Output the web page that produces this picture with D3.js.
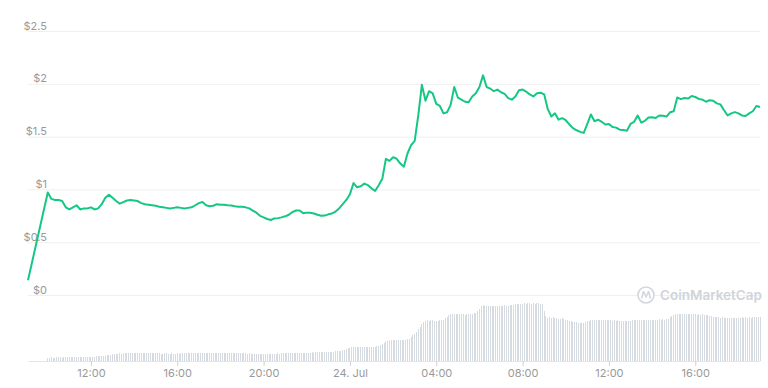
<!DOCTYPE html>
<html>
<head>
<meta charset="utf-8">
<script src="https://cdn.jsdelivr.net/npm/d3@7"></script>
<style>
  html, body { margin: 0; padding: 0; background: #fff; }
  #chart { width: 768px; height: 388px; }
  text { font-family: Inter, "Open Sans", sans-serif; }
</style>
</head>
<body>
<div id="chart"></div>
<script>
// first traded point sits apart from the 10-minute series
const openPoint = [new Date(2021, 6, 23, 9, 5), 0.14];

// price every 10 minutes from 23 Jul 10:00 to 24 Jul 19:00
const priceStart = new Date(2021, 6, 23, 10, 0);
const priceStepMin = 10;
const prices = [
  0.97, 0.91, 0.90, 0.90, 0.89, 0.83, 0.81, 0.83, 0.85, 0.81, 0.82, 0.82,
  0.83, 0.81, 0.82, 0.86, 0.92, 0.95, 0.92, 0.89, 0.865, 0.88, 0.895, 0.90,
  0.895, 0.89, 0.87, 0.86, 0.855, 0.85, 0.845, 0.835, 0.83, 0.825, 0.82, 0.825,
  0.83, 0.825, 0.82, 0.825, 0.83, 0.85, 0.87, 0.88, 0.85, 0.84, 0.845, 0.86,
  0.855, 0.855, 0.85, 0.847, 0.84, 0.836, 0.836, 0.83, 0.82, 0.80, 0.78, 0.75,
  0.735, 0.72, 0.71, 0.725, 0.728, 0.735, 0.745, 0.76, 0.785, 0.80, 0.80, 0.775,
  0.78, 0.778, 0.772, 0.76, 0.75, 0.752, 0.764, 0.772, 0.79, 0.82, 0.86, 0.90,
  0.955, 1.06, 1.02, 1.03, 1.055, 1.04, 1.01, 0.985, 1.04, 1.10, 1.29, 1.27,
  1.305, 1.29, 1.245, 1.215, 1.34, 1.42, 1.46, 1.70, 1.99, 1.84, 1.93, 1.91,
  1.81, 1.79, 1.72, 1.73, 1.80, 1.97, 1.87, 1.85, 1.83, 1.825, 1.88, 1.91,
  1.97, 2.08, 1.97, 1.955, 1.93, 1.945, 1.92, 1.905, 1.865, 1.85, 1.88, 1.94,
  1.945, 1.925, 1.90, 1.88, 1.91, 1.915, 1.90, 1.76, 1.69, 1.72, 1.66, 1.675,
  1.655, 1.615, 1.58, 1.56, 1.545, 1.535, 1.62, 1.71, 1.645, 1.66, 1.64, 1.615,
  1.62, 1.59, 1.585, 1.565, 1.562, 1.556, 1.62, 1.64, 1.70, 1.632, 1.65, 1.68,
  1.683, 1.676, 1.70, 1.697, 1.69, 1.73, 1.74, 1.87, 1.855, 1.865, 1.86, 1.885,
  1.875, 1.857, 1.85, 1.83, 1.845, 1.84, 1.815, 1.805, 1.75, 1.70, 1.72, 1.732,
  1.72, 1.70, 1.695, 1.72, 1.74, 1.79, 1.78
];

// 24h volume (millions USD) every 5 minutes, same span
const volumeStart = new Date(2021, 6, 23, 10, 0);
const volumeStepMin = 5;
const volumes = [
  3.4, 3.5, 3.6, 3.5, 3.4, 3.6, 3.7, 3.6, 3.5, 3.7, 3.8, 3.7,
  3.8, 3.9, 3.8, 4.0, 4.1, 3.9, 4.0, 4.2, 4.1, 4.0, 4.3, 4.2,
  4.3, 4.5, 4.4, 4.6, 4.8, 4.7, 5.0, 5.3, 5.2, 5.6, 5.9, 6.2,
  6.6, 6.9, 7.2, 7.4, 7.6, 7.5, 7.7, 7.8, 7.6, 7.9, 8.0, 7.8,
  8.1, 8.0, 7.9, 8.2, 8.1, 7.8, 8.0, 8.2, 8.1, 7.9, 8.0, 7.8,
  7.7, 7.6, 7.8, 7.5, 7.4, 7.6, 7.7, 7.5, 7.3, 7.6, 7.5, 7.4,
  7.6, 7.5, 7.7, 7.8, 7.6, 7.9, 7.7, 7.8, 8.0, 7.9, 8.1, 8.0,
  8.2, 8.1, 8.3, 8.0, 8.2, 8.4, 8.1, 8.3, 8.2, 8.4, 8.5, 8.3,
  8.4, 8.2, 8.3, 8.1, 8.0, 8.2, 7.9, 8.1, 8.0, 7.8, 7.9, 7.7,
  7.8, 7.6, 7.7, 7.5, 7.6, 7.4, 7.5, 7.3, 7.4, 7.5, 7.3, 7.4,
  7.2, 7.3, 7.1, 7.2, 7.4, 7.3, 7.5, 7.4, 7.6, 7.5, 7.7, 7.6,
  7.8, 7.7, 7.9, 8.0, 7.8, 8.1, 8.0, 8.2, 8.1, 8.3, 8.2, 8.4,
  8.3, 8.5, 8.4, 8.6, 8.5, 8.7, 8.6, 8.8, 8.7, 8.9, 9.0, 8.9,
  9.1, 9.3, 9.2, 9.5, 9.6, 9.8, 10.1, 10.5, 10.9, 11.4, 12.0, 12.6,
  13.2, 13.8, 14.1, 14.0, 14.3, 14.2, 14.0, 14.1, 13.9, 14.2, 14.0, 14.3,
  14.1, 14.4, 14.2, 14.6, 15.0, 15.8, 17.0, 18.5, 19.8, 20.4, 20.8, 21.0,
  21.2, 20.9, 21.3, 21.1, 21.5, 21.2, 21.4, 21.1, 21.6, 22.4, 24.0, 26.0,
  27.5, 29.5, 32.0, 34.5, 37.0, 39.0, 40.2, 40.6, 40.1, 40.8, 41.2, 40.5,
  40.3, 39.8, 40.6, 40.9, 41.5, 42.8, 44.5, 46.0, 46.8, 47.2, 46.6, 47.0,
  46.8, 47.3, 46.9, 47.1, 46.5, 47.2, 46.8, 47.4, 47.0, 47.6, 48.5, 50.5,
  52.5, 54.8, 55.6, 55.2, 54.6, 55.4, 55.0, 54.7, 55.3, 54.9, 55.5, 55.1,
  54.8, 55.3, 55.6, 55.0, 55.4, 56.0, 55.7, 56.3, 56.8, 57.2, 56.9, 57.5,
  57.3, 57.8, 57.1, 57.6, 58.0, 57.4, 57.9, 57.2, 57.7, 58.1, 57.5, 57.0,
  50.0, 45.0, 43.5, 43.8, 43.2, 43.6, 42.8, 43.0, 42.5, 42.2, 42.6, 41.9,
  41.5, 40.8, 40.2, 39.8, 39.4, 39.0, 38.6, 38.2, 38.5, 38.0, 38.4, 38.9,
  39.6, 40.4, 41.0, 41.4, 41.2, 41.5, 41.0, 41.3, 40.9, 41.2, 40.8, 41.0,
  40.6, 40.9, 40.4, 40.7, 40.3, 40.6, 40.2, 40.5, 40.0, 40.3, 39.8, 39.6,
  40.2, 40.8, 41.0, 40.7, 41.1, 40.8, 41.2, 40.9, 41.3, 41.0, 41.4, 41.1,
  41.3, 41.0, 41.5, 41.2, 41.6, 41.3, 41.7, 41.4, 41.8, 42.5, 44.0, 45.5,
  46.5, 47.0, 46.8, 47.2, 46.9, 47.3, 47.0, 46.8, 47.1, 46.7, 47.0, 46.6,
  46.9, 46.5, 46.8, 46.3, 46.6, 46.2, 46.0, 45.6, 45.2, 44.8, 44.3, 44.0,
  43.6, 43.9, 43.4, 43.7, 43.2, 43.5, 43.1, 43.4, 43.0, 43.3, 42.9, 43.2,
  43.5, 43.1, 43.6, 43.2, 43.8, 43.4, 43.9, 43.5, 44.0, 43.6, 44.1, 43.8,
  44.0
];

const yTicks = [0, 0.5, 1, 1.5, 2, 2.5];
const xTicks = [
  new Date(2021, 6, 23, 12), new Date(2021, 6, 23, 16), new Date(2021, 6, 23, 20),
  new Date(2021, 6, 24, 0), new Date(2021, 6, 24, 4), new Date(2021, 6, 24, 8),
  new Date(2021, 6, 24, 12), new Date(2021, 6, 24, 16)
];
const xTickLabels = ['12:00', '16:00', '20:00', '24. Jul', '04:00', '08:00', '12:00', '16:00'];

const width = 768;
const height = 388;
const left = 28;
const right = 760;
const lineColor = '#16c784';

const minute = 60 * 1000;
const priceData = [openPoint].concat(
  prices.map((v, i) => [new Date(+priceStart + i * priceStepMin * minute), v])
);
const volumeData = volumes.map((v, i) => [new Date(+volumeStart + i * volumeStepMin * minute), v]);

const svg = d3.select('#chart')
  .append('svg')
  .attr('width', width)
  .attr('height', height);

const x = d3.scaleTime()
  .domain([openPoint[0], priceData[priceData.length - 1][0]])
  .range([left, right]);

const y = d3.scaleLinear()
  .domain([0, 2.5])
  .range([295, 31]);

const yVol = d3.scaleLinear()
  .domain([0, 60])
  .range([361, 301]);

// grid + price labels
const yAxis = svg.append('g')
  .attr('transform', `translate(${left},0)`)
  .call(d3.axisLeft(y).tickValues(yTicks).tickSize(-(right - left)).tickFormat(d => `$${d}`));

yAxis.select('.domain').remove();
yAxis.selectAll('line').attr('stroke', '#efefef');
yAxis.selectAll('text')
  .attr('x', 19)
  .attr('dy', -2)
  .attr('fill', '#999')
  .style('font-size', '11px');

// watermark
const mark = svg.append('g')
  .attr('transform', 'translate(646,295)');

mark.append('circle')
  .attr('r', 8)
  .attr('fill', '#fff')
  .attr('stroke', '#d3d7dd')
  .attr('stroke-width', 1.6);

mark.append('path')
  .attr('d', 'M-4.5,3.5 L-2.5,-3.5 L0,2 L2.5,-3.5 L4.5,3.5')
  .attr('fill', 'none')
  .attr('stroke', '#d3d7dd')
  .attr('stroke-width', 1.6)
  .attr('stroke-linejoin', 'round');

mark.append('text')
  .attr('x', 14)
  .attr('y', 5)
  .attr('fill', '#d0d4da')
  .style('font-size', '13.5px')
  .style('font-weight', 600)
  .text('CoinMarketCap');

// volume bars
svg.append('g')
  .selectAll('rect')
  .data(volumeData)
  .join('rect')
  .attr('x', d => x(d[0]) - 0.5)
  .attr('y', d => yVol(d[1]))
  .attr('width', 1)
  .attr('height', d => yVol(0) - yVol(d[1]))
  .attr('fill', '#d6dbe2')
  .attr('shape-rendering', 'crispEdges');

// time axis
const xAxis = svg.append('g')
  .attr('transform', `translate(0,${yVol(0)})`)
  .call(d3.axisBottom(x).tickValues(xTicks).tickSize(5).tickSizeOuter(0)
    .tickFormat((d, i) => xTickLabels[i]));

xAxis.select('.domain').attr('stroke', '#e3e5e8');
xAxis.selectAll('line').attr('stroke', '#cfd2d6');
xAxis.selectAll('text')
  .attr('fill', '#999')
  .style('font-size', '11px');

// price line
const line = d3.line()
  .x(d => x(d[0]))
  .y(d => y(d[1]));

svg.append('path')
  .datum(priceData)
  .attr('fill', 'none')
  .attr('stroke', lineColor)
  .attr('stroke-width', 2)
  .attr('stroke-linejoin', 'round')
  .attr('d', line);
</script>
</body>
</html>
